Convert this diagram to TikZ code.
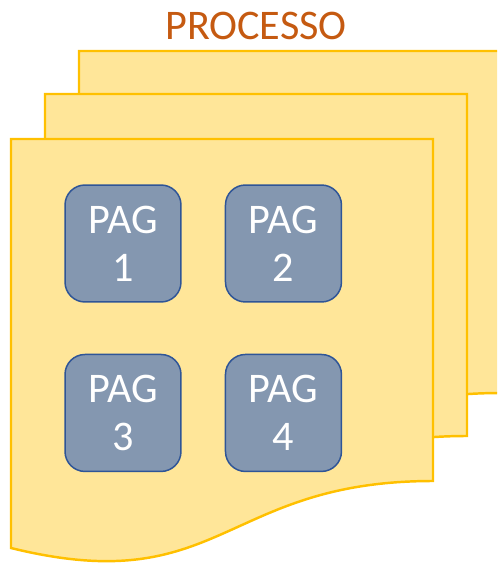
\documentclass[tikz,border=0pt]{standalone}
\usepackage{fontspec}
\setmainfont{Carlito}
\usepackage{tikz}
\usetikzlibrary{positioning}
\definecolor{folhafill}{HTML}{FFE699}
\definecolor{folhadraw}{HTML}{FFC000}
\definecolor{pagfill}{HTML}{8497B0}
\definecolor{pagdraw}{HTML}{2F5597}
\definecolor{titulo}{HTML}{C55A11}
\tikzset{
  folha/.style={draw=folhadraw, fill=folhafill, line width=1.4pt, line join=miter},
  pagina/.style={rectangle, rounded corners=0.4cm, minimum width=2.32cm, minimum height=2.34cm, draw=pagdraw, line width=0.85pt, fill=pagfill, text=white, align=center, font=\fontsize{24}{27.5}\selectfont},
  titulostyle/.style={text=titulo, font=\fontsize{24}{28}\selectfont, inner sep=0pt}
}

\begin{document}
\begin{tikzpicture}[x=0.02cm, y=-0.02cm]

    % Folha com base ondulada (canto superior esquerdo em #1,#2)
    \newcommand{\folha}[2]{
        \draw[folha, shift={(#1,#2)}] (0,409) -- (0,0) -- (422,0) -- (422,342)
            .. controls (211,342) and (211,461) .. (0,409) -- cycle;
    }

    \useasboundingbox (0,0) rectangle (497,564);
    \clip (0,0) rectangle (497,564);

    % Titulo
    \node[titulostyle, anchor=base] (titulo) at (256,40) {PROCESSO};

    % Tres folhas empilhadas
    \folha{79}{51}
    \folha{45}{94}
    \folha{11}{139}

    % Paginas
    \node[pagina] (pag1) at (123,243.5) {PAG\\1};
    \node[pagina, right=0.86cm of pag1] (pag2) {PAG\\2};
    \node[pagina, below=1.02cm of pag1] (pag3) {PAG\\3};
    \node[pagina, right=0.86cm of pag3] (pag4) {PAG\\4};

\end{tikzpicture}
\end{document}
